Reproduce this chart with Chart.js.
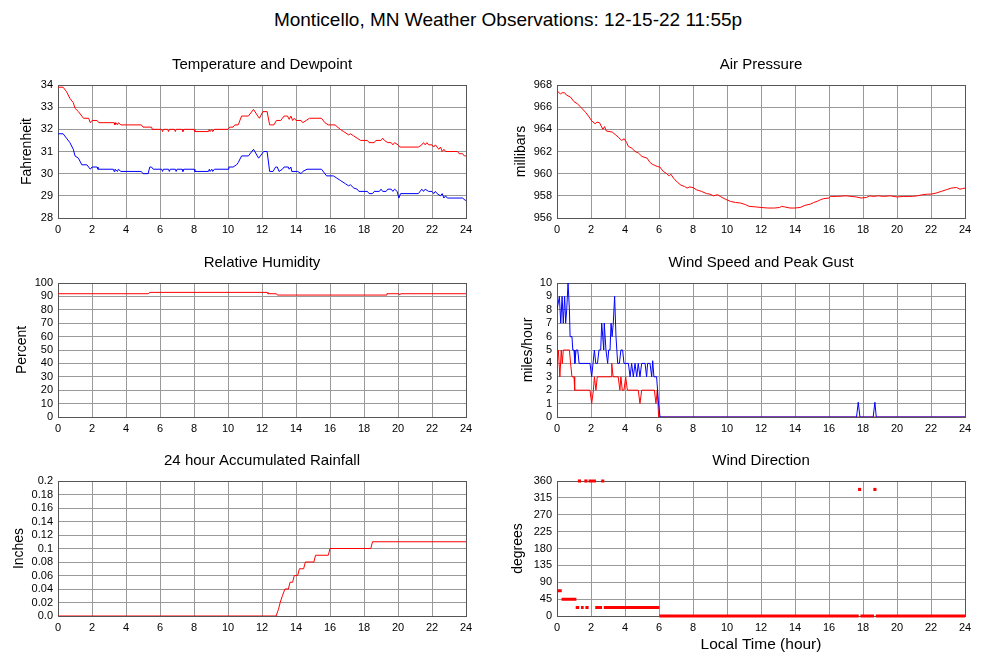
<!DOCTYPE html>
<html>
<head>
<meta charset="utf-8">
<title>Monticello, MN Weather Observations</title>
<script src="https://cdn.jsdelivr.net/npm/chart.js@4.4.0/dist/chart.umd.min.js"></script>
<style>
  body { margin: 0; background: #fff; width: 1000px; height: 660px; position: relative; overflow: hidden;
         font-family: 'Liberation Sans', Arial, sans-serif; }
  #main-title { position: absolute; top: 9px; left: 8px; width: 1000px; text-align: center; font-size: 19px; color: #000; }
  canvas { position: absolute; }
</style>
</head>
<body>
<div id="main-title">Monticello, MN Weather Observations: 12-15-22 11:55p</div>
<script>
// ---- observations, x = local hour (0-24) ----
const tempHours = [0, 0.3, 0.5, 0.7, 0.9, 1.0, 1.2, 1.4, 1.5, 1.8, 1.9, 2.0, 2.3, 2.4, 3.3, 3.35, 3.4, 3.5, 3.55, 3.7, 4.9, 5.0, 5.5, 5.55, 6.1, 6.15, 6.2, 6.45, 6.5, 6.55, 6.85, 6.9, 6.95, 7.3, 7.35, 7.4, 8.0, 8.05, 8.85, 8.9, 8.95, 9.05, 9.1, 9.2, 10.0, 10.1, 10.3, 10.4, 10.6, 10.8, 11.2, 11.5, 11.75, 11.85, 12.05, 12.3, 12.45, 12.7, 12.85, 13.1, 13.3, 13.5, 13.6, 13.7, 13.8, 13.9, 14.0, 14.3, 14.4, 14.6, 14.8, 15.5, 15.7, 15.9, 16.3, 16.6, 16.8, 17.0, 17.1, 17.2, 17.4, 17.6, 17.8, 18.2, 18.3, 18.6, 18.7, 19.0, 19.1, 19.2, 19.4, 19.6, 19.7, 19.8, 20.0, 20.1, 21.2, 21.4, 21.5, 21.6, 21.7, 21.8, 22.0, 22.1, 22.2, 22.3, 22.4, 22.5, 22.6, 22.7, 22.8, 23.5, 23.6, 23.8, 23.9, 24.0];
const tempF     = [33.9, 33.9, 33.7, 33.4, 33.2, 32.95, 32.8, 32.6, 32.5, 32.5, 32.3, 32.4, 32.4, 32.3, 32.3, 32.2, 32.3, 32.2, 32.3, 32.2, 32.2, 32.1, 32.1, 32.0, 32.0, 31.9, 32.0, 32.0, 31.9, 32.0, 32.0, 31.9, 32.0, 32.0, 31.9, 32.0, 32.0, 31.9, 31.9, 32.0, 31.9, 32.0, 31.9, 32.0, 32.0, 32.1, 32.1, 32.2, 32.2, 32.6, 32.6, 32.9, 32.6, 32.5, 32.8, 32.8, 32.2, 32.2, 32.4, 32.4, 32.6, 32.6, 32.45, 32.6, 32.4, 32.5, 32.4, 32.4, 32.3, 32.4, 32.5, 32.5, 32.3, 32.2, 32.2, 32.0, 31.9, 31.8, 31.75, 31.8, 31.7, 31.6, 31.5, 31.5, 31.4, 31.4, 31.5, 31.5, 31.6, 31.5, 31.4, 31.4, 31.3, 31.4, 31.3, 31.2, 31.2, 31.3, 31.4, 31.3, 31.4, 31.3, 31.3, 31.2, 31.3, 31.2, 31.1, 31.2, 31.0, 31.1, 31.0, 31.0, 30.9, 30.9, 30.8, 30.8];

const dewHours = [0, 0.3, 0.5, 0.7, 0.9, 1.0, 1.2, 1.4, 1.7, 1.9, 2.0, 2.3, 2.35, 3.25, 3.3, 3.35, 3.5, 3.55, 3.7, 4.9, 5.0, 5.3, 5.4, 5.5, 5.6, 6.1, 6.15, 6.2, 6.5, 6.55, 6.6, 6.9, 6.95, 7.0, 7.3, 7.35, 7.4, 8.0, 8.05, 8.85, 8.9, 8.95, 9.05, 9.1, 9.2, 10.0, 10.05, 10.3, 10.5, 10.6, 10.8, 11.2, 11.5, 11.8, 12.1, 12.3, 12.45, 12.65, 12.8, 12.9, 13.0, 13.2, 13.3, 13.55, 13.6, 13.7, 13.75, 14.1, 14.3, 14.4, 14.65, 15.5, 15.8, 16.2, 16.4, 16.6, 16.9, 17.0, 17.1, 17.2, 17.4, 17.6, 17.7, 18.2, 18.3, 18.5, 18.6, 18.9, 19.0, 19.1, 19.3, 19.4, 19.6, 19.7, 19.8, 19.95, 20.05, 20.15, 21.2, 21.4, 21.5, 21.6, 21.8, 22.0, 22.1, 22.2, 22.3, 22.5, 22.6, 22.7, 22.8, 22.9, 23.8, 23.95, 24.0];
const dewF     = [31.8, 31.8, 31.6, 31.4, 31.1, 30.8, 30.7, 30.4, 30.4, 30.2, 30.3, 30.3, 30.2, 30.2, 30.1, 30.2, 30.1, 30.2, 30.1, 30.1, 30.0, 30.0, 30.3, 30.3, 30.2, 30.2, 30.1, 30.2, 30.2, 30.1, 30.2, 30.2, 30.1, 30.2, 30.2, 30.1, 30.2, 30.2, 30.1, 30.1, 30.2, 30.1, 30.2, 30.1, 30.2, 30.2, 30.3, 30.3, 30.4, 30.5, 30.8, 30.8, 31.1, 30.7, 31.0, 31.0, 30.1, 30.1, 30.3, 30.3, 30.1, 30.2, 30.3, 30.3, 30.2, 30.3, 30.1, 30.1, 30.0, 30.1, 30.2, 30.2, 29.9, 29.9, 29.8, 29.7, 29.55, 29.5, 29.45, 29.5, 29.35, 29.3, 29.2, 29.2, 29.1, 29.1, 29.2, 29.2, 29.3, 29.2, 29.2, 29.3, 29.3, 29.2, 29.3, 29.2, 28.9, 29.1, 29.1, 29.3, 29.2, 29.3, 29.2, 29.2, 29.1, 29.2, 29.1, 29.0, 29.1, 28.9, 29.0, 28.9, 28.9, 28.8, 28.8];

const pressHours = [0.05, 0.2, 0.3, 0.45, 0.55, 0.8, 1.0, 1.2, 1.4, 1.55, 1.7, 1.85, 2.05, 2.25, 2.35, 2.5, 2.6, 2.7, 2.8, 2.9, 3.25, 3.45, 3.6, 3.8, 3.95, 4.1, 4.2, 4.4, 4.6, 4.8, 5.0, 5.3, 5.45, 5.6, 5.75, 5.9, 6.05, 6.25, 6.45, 6.6, 6.7, 6.85, 7.1, 7.3, 7.5, 7.65, 7.8, 8.0, 8.2, 8.5, 8.8, 9.0, 9.2, 9.45, 9.6, 9.9, 10.2, 10.5, 10.8, 11.1, 11.3, 11.7, 12.0, 12.4, 12.8, 13.1, 13.2, 13.4, 13.7, 14.0, 14.3, 14.6, 14.9, 15.1, 15.3, 15.5, 15.7, 16.0, 16.1, 16.5, 17.0, 17.3, 17.6, 17.9, 18.2, 18.4, 18.6, 18.9, 19.2, 19.6, 20.0, 20.4, 20.9, 21.2, 21.5, 21.8, 22.0, 22.3, 22.6, 22.9, 23.2, 23.5, 23.7, 23.85, 24.0];
const pressMb    = [967.4, 967.2, 967.3, 967.3, 967.1, 966.9, 966.5, 966.3, 966.0, 965.75, 965.5, 965.2, 964.75, 964.5, 964.65, 964.6, 964.3, 964.0, 964.25, 963.85, 963.75, 963.5, 963.3, 963.0, 963.15, 962.8, 962.45, 962.3, 962.0, 961.85, 961.55, 961.4, 961.05, 960.85, 960.75, 960.65, 960.6, 960.2, 960.0, 959.8, 959.95, 959.6, 959.2, 958.95, 958.85, 958.7, 958.8, 958.75, 958.55, 958.4, 958.2, 958.15, 958.0, 958.1, 957.95, 957.7, 957.5, 957.4, 957.35, 957.2, 957.05, 957.0, 956.95, 956.9, 956.9, 956.95, 957.05, 957.0, 956.9, 956.9, 956.95, 957.15, 957.25, 957.4, 957.5, 957.65, 957.75, 957.8, 957.95, 957.95, 958.0, 957.95, 957.9, 957.8, 957.85, 958.0, 957.95, 958.0, 957.95, 958.0, 957.9, 957.95, 957.95, 958.0, 958.1, 958.15, 958.15, 958.25, 958.4, 958.55, 958.7, 958.75, 958.6, 958.65, 958.7];

const rhHours = [0, 5.3, 5.4, 12.3, 12.35, 12.85, 12.9, 19.3, 19.35, 20.05, 20.1, 20.15, 24];
const rhPct   = [92, 92, 93, 93, 92, 92, 91, 91, 92, 92, 91, 92, 92];

const gustHours = [0, 0.14, 0.22, 0.3, 0.37, 0.45, 0.51, 0.57, 0.65, 0.73, 0.77, 0.88, 0.93, 1.0, 1.05, 1.12, 1.22, 1.3, 1.94, 2.04, 2.12, 2.2, 2.28, 2.38, 2.47, 2.57, 2.63, 2.69, 2.75, 2.78, 2.88, 2.98, 3.04, 3.12, 3.18, 3.24, 3.31, 3.39, 3.47, 3.57, 3.67, 3.76, 3.86, 3.94, 4.2, 4.3, 4.39, 4.49, 4.59, 4.69, 4.78, 4.88, 4.98, 5.18, 5.27, 5.33, 5.47, 5.57, 5.63, 5.7, 5.86, 5.96, 6.06, 17.62, 17.72, 17.82, 18.6, 18.7, 18.78, 24];
const gustMph   = [8, 9, 7, 9, 7, 9, 7, 8, 10, 8, 6, 6, 5, 5, 4, 5, 5, 4, 4, 3, 4, 5, 4, 4, 5, 5, 7, 6, 5, 7, 5, 4, 5, 5, 7, 6, 7, 9, 6, 4, 4, 5, 5, 4, 4, 3, 4, 3, 4, 3, 4, 3, 4, 4, 3, 4, 4, 3, 4.2, 3, 3, 1.2, 0, 0, 1.1, 0, 0, 1.1, 0, 0];

const windHours = [0, 0.08, 0.17, 0.25, 0.31, 0.37, 0.57, 0.73, 0.8, 0.88, 1.0, 1.04, 1.94, 2.04, 2.14, 2.2, 2.29, 2.37, 3.18, 3.22, 3.3, 3.6, 3.7, 3.76, 3.84, 3.94, 4.04, 4.14, 4.78, 4.88, 4.98, 5.73, 5.82, 5.9, 5.98, 24];
const windMph   = [4, 5, 3, 5, 4, 5, 5, 5, 4, 3, 3, 2, 2, 1, 2, 3, 2, 3, 3, 4, 3, 3, 2, 3, 2, 2, 3, 2, 2, 1, 2, 2, 1, 2, 0, 0];

const rainHours = [0, 12.83, 12.97, 13.07, 13.2, 13.35, 13.55, 13.65, 13.8, 13.9, 14.1, 14.2, 14.45, 14.55, 15.05, 15.15, 15.9, 16.0, 18.4, 18.5, 24];
const rainIn    = [0, 0, 0.01, 0.02, 0.03, 0.04, 0.04, 0.05, 0.05, 0.06, 0.06, 0.07, 0.07, 0.08, 0.08, 0.09, 0.09, 0.1, 0.1, 0.11, 0.11];

// wind direction: runs of identical readings, plus lone readings
const dirRunStart = [0, 0.27, 1.1, 1.41, 1.67, 1.86, 2.25, 2.6, 2.75, 6.02, 17.85, 18.75];
const dirRunEnd   = [0.28, 1.14, 1.31, 1.57, 1.86, 2.29, 2.65, 2.78, 6.02, 17.75, 18.65, 24];
const dirRunDeg   = [67.5, 45, 22.5, 22.5, 22.5, 360, 22.5, 360, 22.5, 0, 0, 0];
const dirDotHours = [1.32, 1.7, 17.8, 18.7];
const dirDotDeg   = [360, 360, 337.5, 337.5];

const RED = '#ff0000';
const BLUE = '#0000ff';
const GRID = '#999999';

Chart.defaults.font.family = "'Liberation Sans', Arial, sans-serif";
Chart.defaults.color = '#000';

const pts = (xs, ys) => xs.map((x, i) => ({ x, y: ys[i] }));

function dirRuns() {
    const out = [];
    dirRunStart.forEach((s, i) => {
        out.push({ x: s, y: dirRunDeg[i] }, { x: dirRunEnd[i], y: dirRunDeg[i] }, { x: dirRunEnd[i], y: null });
    });
    return out;
}

function trace(data, color) {
    return { data, borderColor: color, borderWidth: 1, pointRadius: 0, tension: 0, fill: false };
}

// dark frame round each plot area
const framePlugin = {
    id: 'frame',
    beforeDatasetsDraw(chart) {
        const { ctx, chartArea: a } = chart;
        const l = Math.round(a.left) + 0.5, t = Math.round(a.top) + 0.5;
        const r = Math.round(a.right) + 0.5, b = Math.round(a.bottom) + 0.5;
        ctx.save();
        ctx.strokeStyle = '#555';
        ctx.lineWidth = 1;
        ctx.strokeRect(l, t, r - l, b - t);
        ctx.restore();
    }
};

const TITLE_H = 35;

function makePanel(p) {
    const cv = document.createElement('canvas');
    const left = p.col === 0 ? 0 : 499;
    const width = p.col === 0 ? 490 : 501;
    const height = TITLE_H + p.plotH + p.xAxisH;
    cv.width = width;
    cv.height = height;
    cv.style.left = left + 'px';
    cv.style.top = (p.plotTop - TITLE_H) + 'px';
    document.body.appendChild(cv);

    new Chart(cv, {
        type: 'line',
        data: { datasets: p.datasets },
        options: {
            responsive: false,
            animation: false,
            devicePixelRatio: 1,
            layout: { padding: { left: 0, top: 0, bottom: 0, right: width - 58 - 408 } },
            plugins: {
                legend: { display: false },
                tooltip: { enabled: false },
                title: {
                    display: true,
                    fullSize: false,
                    text: p.title,
                    color: '#000',
                    font: { size: 15, weight: 'normal' },
                    padding: { top: 6, bottom: 11 }
                }
            },
            scales: {
                x: {
                    type: 'linear',
                    min: 0,
                    max: 24,
                    border: { display: false },
                    grid: { color: GRID, lineWidth: 1, drawTicks: false },
                    ticks: { stepSize: 2, padding: 5, autoSkip: false, maxRotation: 0, font: { size: 11 }, color: '#000' },
                    title: p.xTitle
                        ? { display: true, text: p.xTitle, font: { size: 15.5 }, color: '#000', padding: { top: 0, bottom: 2 } }
                        : { display: false },
                    afterFit: s => { s.height = p.xAxisH; }
                },
                y: {
                    type: 'linear',
                    min: p.yMin,
                    max: p.yMax,
                    border: { display: false },
                    grid: { color: GRID, lineWidth: 1, drawTicks: false },
                    ticks: {
                        stepSize: p.yStep,
                        padding: 5,
                        autoSkip: false,
                        font: { size: 11 },
                        color: '#000',
                        callback: p.yFormat || (v => v)
                    },
                    title: { display: true, text: p.yTitle, font: { size: 14 }, color: '#000', padding: { top: p.yTitleX - 8.4, bottom: 0 } },
                    afterFit: s => { s.width = 58; }
                }
            }
        },
        plugins: [framePlugin]
    });
}

const panels = [
    {
        col: 0, plotTop: 85, plotH: 133, xAxisH: 24,
        title: 'Temperature and Dewpoint', yTitle: 'Fahrenheit', yTitleX: 27,
        yMin: 28, yMax: 34, yStep: 1,
        datasets: [trace(pts(tempHours, tempF), RED), trace(pts(dewHours, dewF), BLUE)]
    },
    {
        col: 1, plotTop: 85, plotH: 133, xAxisH: 24,
        title: 'Air Pressure', yTitle: 'millibars', yTitleX: 22,
        yMin: 956, yMax: 968, yStep: 2,
        datasets: [trace(pts(pressHours, pressMb), RED)]
    },
    {
        col: 0, plotTop: 283, plotH: 134, xAxisH: 24,
        title: 'Relative Humidity', yTitle: 'Percent', yTitleX: 22,
        yMin: 0, yMax: 100, yStep: 10,
        datasets: [trace(pts(rhHours, rhPct), RED)]
    },
    {
        col: 1, plotTop: 283, plotH: 134, xAxisH: 24,
        title: 'Wind Speed and Peak Gust', yTitle: 'miles/hour', yTitleX: 29,
        yMin: 0, yMax: 10, yStep: 1,
        datasets: [trace(pts(gustHours, gustMph), BLUE), trace(pts(windHours, windMph), RED)]
    },
    {
        col: 0, plotTop: 481, plotH: 135, xAxisH: 24,
        title: '24 hour Accumulated Rainfall', yTitle: 'Inches', yTitleX: 19,
        yMin: 0, yMax: 0.2, yStep: 0.02,
        yFormat: v => { const r = Math.round(v * 100) / 100; return r === 0 ? '0.0' : String(r); },
        datasets: [trace(pts(rainHours, rainIn), RED)]
    },
    {
        col: 1, plotTop: 481, plotH: 135, xAxisH: 40, xTitle: 'Local Time (hour)',
        title: 'Wind Direction', yTitle: 'degrees', yTitleX: 19,
        yMin: 0, yMax: 360, yStep: 45,
        datasets: [
            { data: dirRuns(), borderColor: RED, borderWidth: 3, borderCapStyle: 'butt', pointRadius: 0, spanGaps: false, fill: false, clip: 4 },
            { data: pts(dirDotHours, dirDotDeg), showLine: false, pointStyle: 'rect', pointRadius: 2.2, pointBorderWidth: 0, pointBackgroundColor: RED, clip: 4 }
        ]
    }
];

panels.forEach(makePanel);
</script>
</body>
</html>
